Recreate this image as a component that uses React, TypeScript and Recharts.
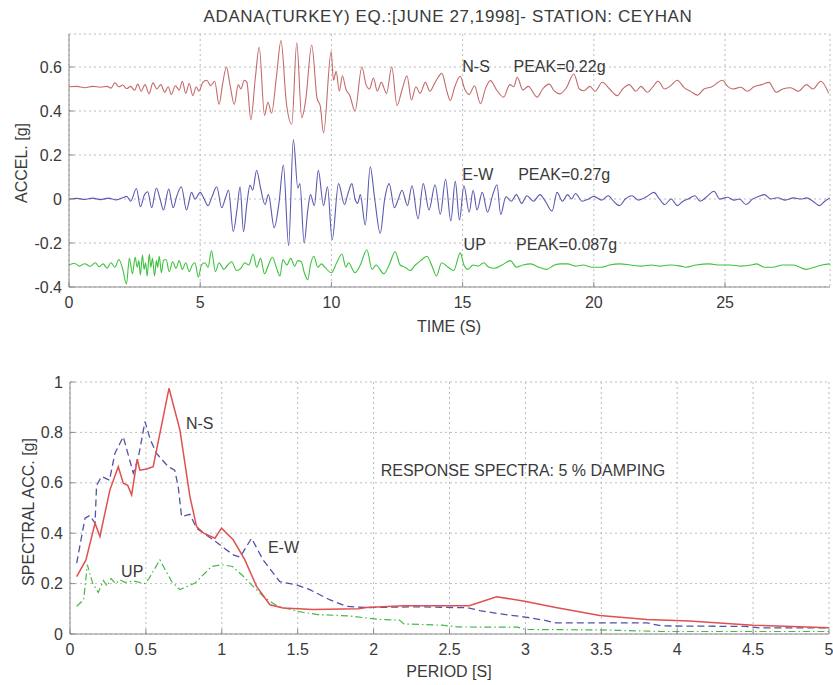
import React from 'react';
import { LineChart, Line, XAxis, YAxis, CartesianGrid, ReferenceDot } from 'recharts';

const FONT = '"Liberation Sans", Arial, Helvetica, sans-serif';
const TEXT = '#3a3a3a';
const AXIS = '#8c8c8c';
const GRID = '#bcbcbc';

// ---- acceleration time histories: [time (s), acceleration (g)] ----
const NS_ACC: [number, number][] = [
  [0, 0.01], [0.3, 0.012], [0.6, 0.006], [0.9, 0.012], [1.2, 0.008], [1.45, 0.012], [1.6, 0.004], [1.75, 0.028],
  [1.9, 0.01], [2.05, 0.018], [2.2, 0.002], [2.35, 0.012], [2.5, -0.006], [2.62, 0.022], [2.75, -0.01], [2.9, 0.02],
  [3.05, -0.022], [3.2, 0.028], [3.35, 0.0], [3.5, 0.02], [3.65, -0.015], [3.78, 0.01], [3.9, -0.025], [4.05, 0.015],
  [4.2, -0.005], [4.32, 0.035], [4.45, -0.02], [4.58, 0.025], [4.72, -0.03], [4.85, 0.01], [4.95, -0.01], [5.1, 0.03],
  [5.25, 0.04], [5.4, 0.015], [5.55, 0.035], [5.72, -0.07], [5.85, 0.02], [6.0, 0.1], [6.12, 0.03], [6.3, -0.07],
  [6.45, 0.02], [6.55, 0.0], [6.68, 0.04], [6.78, 0.03], [6.93, -0.14], [7.1, 0.05], [7.25, 0.19], [7.45, -0.12],
  [7.58, -0.06], [7.72, -0.11], [7.9, 0.05], [8.08, 0.22], [8.28, -0.06], [8.49, -0.16], [8.68, 0.21], [8.87, -0.13],
  [9.02, -0.05], [9.25, 0.2], [9.45, -0.04], [9.58, -0.08], [9.7, -0.2], [9.99, 0.17], [10.08, 0.04], [10.18, 0.08],
  [10.3, -0.01], [10.42, 0.06], [10.55, 0.0], [10.7, -0.03], [10.9, -0.1], [11.16, 0.1], [11.32, 0.02], [11.45, 0.0],
  [11.6, 0.05], [11.75, -0.01], [11.9, 0.03], [12.1, -0.02], [12.3, 0.1], [12.5, -0.075], [12.7, 0.0], [12.88, 0.06],
  [13.05, -0.05], [13.22, 0.01], [13.38, -0.02], [13.58, 0.03], [13.75, -0.01], [13.95, 0.03], [14.21, 0.071], [14.4, -0.01],
  [14.53, -0.052], [14.7, 0.01], [14.91, 0.058], [15.08, 0.0], [15.25, -0.025], [15.45, 0.015], [15.68, -0.067], [15.88, 0.005],
  [16.06, 0.038], [16.3, -0.005], [16.56, -0.037], [16.8, 0.02], [16.95, 0.01], [17.08, 0.053], [17.3, -0.005], [17.5, 0.012],
  [17.84, -0.037], [18.05, 0.0], [18.3, 0.022], [18.5, -0.01], [18.7, -0.022], [18.95, 0.005], [19.24, 0.068], [19.45, 0.0],
  [19.62, -0.008], [19.85, 0.012], [20.05, -0.01], [20.32, 0.031], [20.6, 0.0], [20.89, -0.03], [21.1, 0.0], [21.35, 0.02],
  [21.6, -0.01], [21.8, 0.012], [22.04, -0.015], [22.25, 0.01], [22.45, 0.035], [22.7, 0.0], [22.9, 0.012], [23.18, 0.04],
  [23.45, 0.005], [23.7, -0.012], [23.95, -0.028], [24.2, 0.0], [24.5, 0.01], [24.9, 0.04], [25.1, 0.012], [25.3, 0.0],
  [25.6, 0.008], [25.85, -0.01], [26.1, 0.01], [26.4, 0.02], [26.67, 0.03], [26.95, -0.015], [27.2, 0.0], [27.5, 0.006],
  [27.8, -0.01], [28.1, 0.02], [28.35, 0.0], [28.65, 0.035], [28.95, -0.02],
];

const EW_ACC: [number, number][] = [
  [0, 0], [0.3, 0.003], [0.6, -0.002], [0.9, 0.004], [1.2, -0.003], [1.5, 0.004], [1.8, -0.004], [2.05, 0.006],
  [2.2, 0.012], [2.35, -0.01], [2.57, 0.048], [2.72, -0.035], [2.88, 0.02], [3.0, 0.033], [3.15, -0.04], [3.33, 0.05],
  [3.47, 0.0], [3.6, -0.05], [3.8, 0.045], [3.97, -0.04], [4.1, 0.01], [4.28, 0.056], [4.48, -0.05], [4.67, 0.03],
  [4.8, 0.0], [5.0, 0.03], [5.15, 0.0], [5.3, -0.03], [5.45, 0.01], [5.63, 0.056], [5.82, -0.04], [5.95, 0.0],
  [6.08, 0.04], [6.26, -0.148], [6.4, -0.05], [6.52, 0.055], [6.65, -0.148], [6.78, -0.02], [6.9, 0.063], [7.0, 0.04],
  [7.15, 0.131], [7.3, 0.05], [7.47, -0.025], [7.6, 0.02], [7.82, -0.13], [8.0, -0.02], [8.17, 0.154], [8.37, -0.212],
  [8.55, 0.27], [8.72, 0.05], [8.8, 0.07], [8.96, -0.2], [9.1, -0.05], [9.2, 0.02], [9.35, -0.03], [9.5, 0.13],
  [9.7, -0.03], [9.85, 0.056], [10.03, -0.185], [10.27, 0.07], [10.5, -0.025], [10.62, 0.02], [10.78, 0.07], [10.9, 0.0],
  [11.0, -0.02], [11.1, 0.02], [11.29, -0.118], [11.48, 0.146], [11.65, 0.0], [11.86, -0.156], [12.03, 0.0], [12.2, 0.07],
  [12.4, -0.04], [12.55, 0.0], [12.69, 0.04], [12.9, -0.03], [13.07, 0.06], [13.3, -0.09], [13.5, 0.07], [13.72, -0.05],
  [13.95, 0.065], [14.15, -0.07], [14.35, 0.09], [14.55, -0.1], [14.72, 0.08], [14.88, -0.095], [15.05, 0.06], [15.25, -0.06],
  [15.4, 0.04], [15.55, -0.05], [15.75, 0.03], [15.95, -0.06], [16.15, 0.02], [16.31, 0.065], [16.45, -0.07], [16.65, 0.01],
  [16.85, -0.01], [17.05, 0.02], [17.25, -0.02], [17.45, 0.015], [17.7, -0.01], [17.95, 0.02], [18.15, -0.01], [18.41, -0.055],
  [18.6, 0.03], [18.8, -0.01], [19.0, 0.02], [19.15, 0.0], [19.3, 0.025], [19.55, -0.01], [19.8, 0.0], [20.0, 0.012],
  [20.3, -0.005], [20.55, 0.015], [20.75, -0.01], [20.98, -0.03], [21.2, 0.0], [21.45, 0.015], [21.7, -0.005], [22.0, 0.01],
  [22.29, 0.03], [22.5, 0.0], [22.7, -0.025], [22.95, 0.0], [23.18, -0.03], [23.4, -0.01], [23.6, 0.0], [23.85, 0.015],
  [24.05, -0.01], [24.3, 0.01], [24.58, 0.035], [24.8, 0.0], [25.1, 0.008], [25.35, -0.005], [25.55, 0.0], [25.8, -0.025],
  [26.05, 0.0], [26.25, 0.01], [26.5, 0.02], [26.75, 0.0], [27.0, 0.006], [27.3, -0.005], [27.6, 0.005], [27.9, 0.0],
  [28.1, 0.005], [28.35, -0.01], [28.6, -0.03], [28.8, -0.01], [29.0, 0.005],
];

const UP_ACC: [number, number][] = [
  [0, 0.0], [0.2, 0.008], [0.4, -0.005], [0.6, 0.006], [0.8, -0.006], [1.0, 0.01], [1.15, -0.008], [1.3, 0.005],
  [1.45, -0.015], [1.6, 0.01], [1.75, -0.01], [1.9, 0.025], [2.05, -0.02], [2.19, -0.087], [2.3, 0.03], [2.42, -0.04],
  [2.52, 0.035], [2.6, -0.01], [2.66, 0.02], [2.72, -0.045], [2.8, 0.045], [2.86, -0.02], [2.92, 0.01], [2.98, -0.05],
  [3.06, 0.05], [3.12, -0.01], [3.18, 0.03], [3.26, -0.05], [3.33, 0.02], [3.38, -0.01], [3.44, 0.04], [3.52, -0.035],
  [3.6, 0.02], [3.7, 0.025], [3.82, -0.03], [3.95, 0.015], [4.08, -0.015], [4.2, 0.02], [4.32, -0.02], [4.45, 0.01],
  [4.58, -0.03], [4.7, 0.0], [4.8, 0.01], [4.93, -0.055], [5.05, 0.0], [5.18, 0.01], [5.3, -0.01], [5.43, 0.065],
  [5.58, -0.03], [5.72, 0.01], [5.9, -0.02], [6.05, 0.0], [6.2, 0.015], [6.38, -0.025], [6.55, -0.015], [6.7, 0.01],
  [6.85, 0.0], [7.02, 0.05], [7.15, -0.01], [7.3, 0.03], [7.45, -0.04], [7.6, 0.0], [7.75, 0.035], [7.9, -0.01],
  [8.04, -0.05], [8.15, 0.025], [8.3, 0.0], [8.45, 0.03], [8.6, -0.005], [8.72, 0.02], [8.85, 0.015], [8.98, -0.04],
  [9.1, -0.067], [9.2, 0.0], [9.33, 0.04], [9.48, -0.01], [9.62, 0.005], [9.75, -0.01], [10.0, -0.035], [10.2, 0.01],
  [10.4, 0.05], [10.55, -0.01], [10.65, 0.01], [10.9, -0.035], [11.1, 0.0], [11.35, 0.069], [11.55, -0.02], [11.7, 0.0],
  [12.0, -0.04], [12.2, 0.0], [12.43, 0.06], [12.62, 0.0], [12.8, -0.01], [13.0, -0.025], [13.2, 0.0], [13.4, 0.02],
  [13.64, 0.04], [13.85, -0.01], [14.0, -0.05], [14.2, 0.01], [14.45, -0.01], [14.66, -0.025], [14.91, 0.055], [15.05, 0.0],
  [15.2, -0.02], [15.4, 0.0], [15.6, -0.005], [15.8, 0.01], [16.0, -0.01], [16.2, -0.015], [16.5, 0.0], [16.82, 0.02],
  [17.05, -0.01], [17.3, 0.0], [17.6, 0.005], [17.9, -0.01], [18.2, -0.02], [18.5, 0.0], [18.75, 0.005], [19.0, 0.005],
  [19.3, -0.005], [19.6, 0.0], [19.9, -0.01], [20.3, -0.01], [20.6, 0.0], [21.0, 0.005], [21.4, 0.0], [21.8, -0.005],
  [22.2, 0.0], [22.5, -0.005], [22.9, 0.0], [23.3, -0.005], [23.5, -0.01], [23.9, 0.0], [24.4, 0.005], [24.8, 0.0],
  [25.2, 0.0], [25.6, -0.005], [26.0, 0.0], [26.2, 0.005], [26.5, -0.01], [26.85, -0.01], [27.2, 0.0], [27.6, 0.0],
  [28.1, -0.02], [28.4, -0.01], [28.7, 0.0], [29.0, 0.005],
];

// vertical offsets used to stack the three components
const NS_SHIFT = 0.5;
const EW_SHIFT = 0;
const UP_SHIFT = -0.3;

const NS_PEAK = 0.22;
const EW_PEAK = 0.27;
const UP_PEAK = 0.087;

// ---- 5% damped response spectra: [period (s), spectral acceleration (g)] ----
const NS_SA: [number, number][] = [
  [0.044, 0.228], [0.105, 0.294], [0.165, 0.44], [0.197, 0.387], [0.263, 0.572], [0.318, 0.664], [0.351, 0.598],
  [0.38, 0.59], [0.406, 0.552], [0.443, 0.694], [0.46, 0.65], [0.505, 0.655], [0.548, 0.664], [0.652, 0.975],
  [0.724, 0.81], [0.79, 0.545], [0.834, 0.426], [0.88, 0.4], [0.955, 0.38], [0.998, 0.42], [1.075, 0.374],
  [1.152, 0.294], [1.229, 0.189], [1.317, 0.116], [1.404, 0.103], [1.6, 0.097], [1.9, 0.1], [1.95, 0.105],
  [2.2, 0.112], [2.63, 0.112], [2.81, 0.148], [2.995, 0.13], [3.2, 0.105], [3.49, 0.073], [3.8, 0.058],
  [4.08, 0.052], [4.5, 0.035], [5.0, 0.025],
];

const EW_SA: [number, number][] = [
  [0.044, 0.281], [0.099, 0.46], [0.13, 0.47], [0.165, 0.44], [0.175, 0.59], [0.208, 0.625], [0.26, 0.61],
  [0.296, 0.717], [0.351, 0.783], [0.417, 0.638], [0.45, 0.7], [0.494, 0.843], [0.53, 0.77], [0.57, 0.717],
  [0.647, 0.664], [0.69, 0.65], [0.713, 0.585], [0.735, 0.466], [0.79, 0.475], [0.834, 0.42], [0.943, 0.374],
  [1.075, 0.314], [1.12, 0.305], [1.196, 0.38], [1.272, 0.294], [1.382, 0.208], [1.492, 0.195], [1.58, 0.176],
  [1.71, 0.136], [1.82, 0.11], [1.95, 0.105], [2.3, 0.108], [2.62, 0.104], [2.7, 0.093], [2.83, 0.08],
  [3.0, 0.067], [3.13, 0.054], [3.2, 0.044], [3.8, 0.044], [3.9, 0.032], [4.45, 0.03], [4.55, 0.024], [5.0, 0.024],
];

const UP_SA: [number, number][] = [
  [0.044, 0.11], [0.09, 0.136], [0.114, 0.275], [0.15, 0.2], [0.186, 0.165], [0.22, 0.212], [0.245, 0.19],
  [0.27, 0.22], [0.3, 0.2], [0.33, 0.215], [0.36, 0.205], [0.42, 0.21], [0.494, 0.2], [0.52, 0.22],
  [0.592, 0.294], [0.67, 0.208], [0.724, 0.176], [0.823, 0.202], [0.933, 0.268], [1.0, 0.275], [1.07, 0.268],
  [1.14, 0.23], [1.196, 0.195], [1.284, 0.143], [1.37, 0.11], [1.5, 0.09], [1.63, 0.077], [1.83, 0.072],
  [2.05, 0.057], [2.17, 0.055], [2.2, 0.04], [2.45, 0.035], [2.55, 0.028], [2.95, 0.027], [3.0, 0.018],
  [3.5, 0.016], [3.9, 0.01], [5.0, 0.01],
];

// ---- axis ticks ----
const TIME_TICKS = [0, 5, 10, 15, 20, 25];
const ACC_TICKS = [-0.4, -0.2, 0, 0.2, 0.4, 0.6];
const PERIOD_TICKS = [0, 0.5, 1, 1.5, 2, 2.5, 3, 3.5, 4, 4.5, 5];
const SA_TICKS = [0, 0.2, 0.4, 0.6, 0.8, 1];

const TIME_DOMAIN: [number, number] = [0, 29];
const ACC_DOMAIN: [number, number] = [-0.4, 0.75];
const PERIOD_DOMAIN: [number, number] = [0, 5];
const SA_DOMAIN: [number, number] = [0, 1];

const trace = (pts: [number, number][], shift: number) => pts.map(([t, a]) => ({ x: t, y: a + shift }));
const curve = (pts: [number, number][]) => pts.map(([p, s]) => ({ x: p, y: s }));

const tickStyle = { fill: TEXT, fontSize: 16, fontFamily: FONT };
const noteStyle = { fill: TEXT, fontSize: 16, fontFamily: FONT };

const note = (key: string, x: number, y: number, text: string) => (
  <ReferenceDot
    key={key}
    x={x}
    y={y}
    r={1}
    fill="none"
    stroke="none"
    label={{ value: text, position: 'right', offset: 0, ...noteStyle }}
  />
);

// frame: labelled bottom/left axes plus bare top/right axes carrying inward ticks
const frame = (
  xDomain: [number, number],
  xTicks: number[],
  yDomain: [number, number],
  yTicks: number[],
  xHeight: number,
  yWidth: number,
) => [
  <CartesianGrid key="grid" stroke={GRID} strokeDasharray="2 3" />,
  <XAxis
    key="xb"
    xAxisId={0}
    dataKey="x"
    type="number"
    domain={xDomain}
    ticks={xTicks}
    interval={0}
    allowDataOverflow
    height={xHeight}
    tickSize={-5}
    tickMargin={15}
    stroke={AXIS}
    tick={tickStyle}
  />,
  <XAxis
    key="xt"
    xAxisId="top"
    orientation="top"
    dataKey="x"
    type="number"
    domain={xDomain}
    ticks={xTicks}
    interval={0}
    allowDataOverflow
    height={0}
    tickSize={-5}
    tick={false}
    stroke={AXIS}
  />,
  <YAxis
    key="yl"
    yAxisId={0}
    type="number"
    domain={yDomain}
    ticks={yTicks}
    interval={0}
    allowDataOverflow
    width={yWidth}
    tickSize={-5}
    tickMargin={12}
    stroke={AXIS}
    tick={tickStyle}
  />,
  <YAxis
    key="yr"
    yAxisId="right"
    orientation="right"
    type="number"
    domain={yDomain}
    ticks={yTicks}
    interval={0}
    allowDataOverflow
    width={0}
    tickSize={-5}
    tick={false}
    stroke={AXIS}
  />,
];

export default function App() {
  return (
    <div style={{ position: 'absolute', left: 0, top: 0, width: 833, height: 685, background: '#fff' }}>
      {/* acceleration time histories */}
      <div style={{ position: 'absolute', left: 0, top: 0 }}>
        <LineChart width={833} height={340} margin={{ top: 34, right: 3, bottom: 0, left: 0 }}>
          {frame(TIME_DOMAIN, TIME_TICKS, ACC_DOMAIN, ACC_TICKS, 53, 69)}
          <Line type="monotone" data={trace(NS_ACC, NS_SHIFT)} dataKey="y" stroke="#c46a6a" strokeWidth={1.1} dot={false} isAnimationActive={false} />
          <Line type="monotone" data={trace(EW_ACC, EW_SHIFT)} dataKey="y" stroke="#5a5ab0" strokeWidth={1.1} dot={false} isAnimationActive={false} />
          <Line type="monotone" data={trace(UP_ACC, UP_SHIFT)} dataKey="y" stroke="#3ec23e" strokeWidth={1.1} dot={false} isAnimationActive={false} />
          {note('ns', 14.95, 0.605, 'N-S')}
          {note('nsp', 16.9, 0.605, `PEAK=${NS_PEAK}g`)}
          {note('ew', 14.95, 0.11, 'E-W')}
          {note('ewp', 17.08, 0.11, `PEAK=${EW_PEAK}g`)}
          {note('up', 15.0, -0.207, 'UP')}
          {note('upp', 17.0, -0.207, `PEAK=${UP_PEAK}g`)}
        </LineChart>
      </div>

      {/* response spectra */}
      <div style={{ position: 'absolute', left: 0, top: 340 }}>
        <LineChart width={833} height={345} margin={{ top: 42, right: 4, bottom: 0, left: 0 }}>
          {frame(PERIOD_DOMAIN, PERIOD_TICKS, SA_DOMAIN, SA_TICKS, 51, 70)}
          <Line data={curve(UP_SA)} dataKey="y" stroke="#48b848" strokeWidth={1.2} strokeDasharray="7 3 1.5 3" dot={false} isAnimationActive={false} />
          <Line data={curve(EW_SA)} dataKey="y" stroke="#5252a6" strokeWidth={1.3} strokeDasharray="7 4" dot={false} isAnimationActive={false} />
          <Line data={curve(NS_SA)} dataKey="y" stroke="#e05050" strokeWidth={1.5} dot={false} isAnimationActive={false} />
          {note('sns', 0.757, 0.837, 'N-S')}
          {note('sew', 1.297, 0.342, 'E-W')}
          {note('sup', 0.33, 0.247, 'UP')}
          {note('sdamp', 2.04, 0.651, 'RESPONSE SPECTRA: 5 % DAMPING')}
        </LineChart>
      </div>

      {/* titles */}
      <svg width={833} height={685} style={{ position: 'absolute', left: 0, top: 0, pointerEvents: 'none' }}>
        <text x={448} y={22} textAnchor="middle" fontSize={17} letterSpacing={0.6} fontFamily={FONT} fill={TEXT}>
          ADANA(TURKEY) EQ.:[JUNE 27,1998]- STATION: CEYHAN
        </text>
        <text x={449} y={332} textAnchor="middle" fontSize={16} fontFamily={FONT} fill={TEXT}>
          TIME (S)
        </text>
        <text x={449} y={677} textAnchor="middle" fontSize={16} fontFamily={FONT} fill={TEXT}>
          PERIOD [S]
        </text>
        <text x={27} y={163} textAnchor="middle" fontSize={16} fontFamily={FONT} fill={TEXT} transform="rotate(-90 27 163)">
          ACCEL. [g]
        </text>
        <text x={34} y={512} textAnchor="middle" fontSize={16} fontFamily={FONT} fill={TEXT} transform="rotate(-90 34 512)">
          SPECTRAL ACC. [g]
        </text>
      </svg>
    </div>
  );
}
